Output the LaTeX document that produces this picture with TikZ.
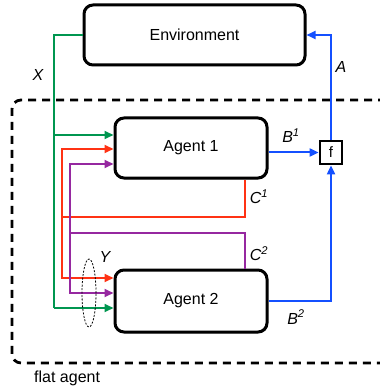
\documentclass[tikz,border=0pt]{standalone}
\usepackage{fontspec}
\setmainfont{Liberation Sans}
\usetikzlibrary{arrows.meta,shadows}
\definecolor{cgreen}{RGB}{0,150,80}
\definecolor{cred}{RGB}{255,50,20}
\definecolor{cpurple}{RGB}{150,40,160}
\definecolor{cblue}{RGB}{20,80,255}
\begin{document}
\begin{tikzpicture}[x=1pt,y=-1pt,
  box/.style={draw=black,line width=3pt,rounded corners=9pt,fill=white,
    drop shadow={shadow xshift=1pt,shadow yshift=-1.5pt,opacity=0.25},
    inner sep=0pt,font=\fontsize{16}{18}\selectfont},
  fbox/.style={draw=black,line width=2.8pt,fill=white,inner sep=0pt,
    minimum width=22pt,minimum height=23pt,font=\fontsize{15}{17}\selectfont},
  conn/.style={line width=2pt},
  arr/.style={conn,-{Triangle[length=9pt,width=8pt]}},
  lab/.style={font=\fontsize{16}{18}\selectfont\itshape,inner sep=0pt}]
\useasboundingbox (0,0) rectangle (379,387);
% flat agent dashed frame
\draw[line width=2.8pt,dash pattern=on 8pt off 6pt,rounded corners=9pt]
  (400,100) -- (12,100) -- (12,363) -- (400,363);
\node[font=\fontsize{16}{18}\selectfont,anchor=west,inner sep=0pt] (flat) at (34,378) {flat agent};
% boxes
\node[box,minimum width=221pt,minimum height=60pt] (env) at (194.5,35) {Environment};
\node[box,minimum width=152pt,minimum height=60pt] (a1) at (191,148) {Agent 1};
\node[box,minimum width=152pt,minimum height=62pt] (a2) at (191,301) {Agent 2};
\node[fbox] (f) at (331,152.5) {f};
% green X
\coordinate (gtop) at (54,35);
\coordinate (gbr) at (54,135);
\coordinate (gbot) at (54,308);
\draw[conn,cgreen] (env.west |- gtop) -- (gtop) -- (gbot);
\draw[arr,cgreen] (gbr) -- (gbr -| a1.west);
\draw[arr,cgreen] (gbot) -- (gbot -| a2.west);
% red C1
\coordinate (r1) at (245,217);
\coordinate (r2) at (62,217);
\coordinate (rt) at (62,149);
\coordinate (rb) at (62,278);
\draw[conn,cred] (r1 |- a1.south) -- (r1) -- (r2);
\draw[arr,cred] (rb) -- (rt) -- (rt -| a1.west);
\draw[arr,cred] (r2) -- (rb) -- (rb -| a2.west);
% purple C2
\coordinate (p1) at (245,233);
\coordinate (p2) at (70,233);
\coordinate (pt) at (70,164);
\coordinate (pb) at (70,293);
\draw[conn,cpurple] (p1 |- a2.north) -- (p1) -- (p2);
\draw[arr,cpurple] (p2) -- (pt) -- (pt -| a1.west);
\draw[arr,cpurple] (p2) -- (pb) -- (pb -| a2.west);
% blue
\coordinate (b1) at (267,152.5);
\draw[arr,cblue] (b1 -| a1.east) -- (f.west);
\coordinate (b2) at (331,301);
\draw[arr,cblue] (b2 -| a2.east) -- (b2) -- (f.south);
\coordinate (b3) at (331,35);
\draw[arr,cblue] (f.north) -- (b3) -- (b3 -| env.east);
% Y ellipse
\draw[line width=0.8pt,dash pattern=on 2pt off 1.5pt] (89,293) ellipse [x radius=7pt,y radius=34pt];
% labels
\node[lab] (lX) at (38,75) {X};
\node[lab] (lA) at (341,67) {A};
\node[lab] (lB1) at (291,136) {B\textsuperscript{1}};
\node[lab] (lC1) at (259,197) {C\textsuperscript{1}};
\node[lab] (lC2) at (259,254) {C\textsuperscript{2}};
\node[lab] (lY) at (105,257) {Y};
\node[lab] (lB2) at (296,317) {B\textsuperscript{2}};
\end{tikzpicture}
\end{document}
